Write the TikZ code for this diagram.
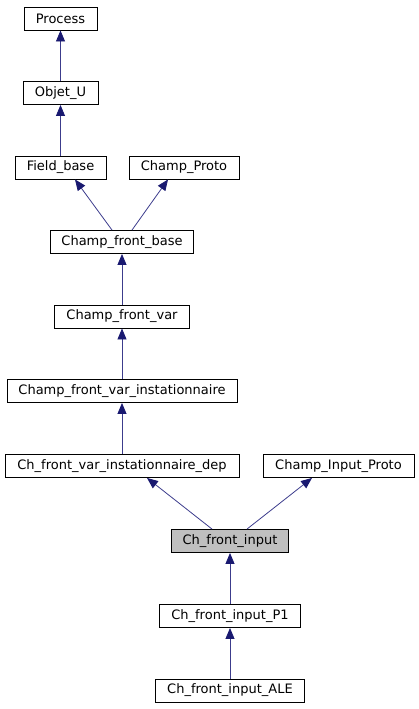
\documentclass[tikz,border=0pt]{standalone}
\usepackage{fontspec}
\setmainfont{DejaVu Sans}
\usetikzlibrary{arrows.meta}
\definecolor{edgecol}{HTML}{191970}
\definecolor{shaftcol}{HTML}{3C3C8C}
\definecolor{hl}{HTML}{BFBFBF}
\tikzset{
  cls/.style={draw=black, line width=0.9pt, fill=white, inner sep=0pt, minimum height=23pt, font=\fontsize{13pt}{15pt}\selectfont},
  edge/.style={draw=shaftcol, line width=0.8pt, -{Triangle[length=11pt,width=9pt,fill=edgecol,color=edgecol]}}
}
\begin{document}
\begin{tikzpicture}[x=1pt,y=-1pt]
\useasboundingbox (0,0) rectangle (418,709);
\node[cls, minimum width=73pt] (process) at (60.5,18.5) {Process};
\node[cls, minimum width=75pt] (objet) at (60.5,93) {Objet\_U};
\node[cls, minimum width=91pt] (fb) at (60.5,167.5) {Field\_base};
\node[cls, minimum width=110pt] (cp) at (184,167.5) {Champ\_Proto};
\node[cls, minimum width=143pt] (cfb) at (122,242) {Champ\_front\_base};
\node[cls, minimum width=135pt] (cfv) at (122,316.5) {Champ\_front\_var};
\node[cls, minimum width=230pt] (cfvi) at (122,391) {Champ\_front\_var\_instationnaire};
\node[cls, minimum width=234pt] (dep) at (122,466) {Ch\_front\_var\_instationnaire\_dep};
\node[cls, minimum width=151pt] (cip) at (338.5,466) {Champ\_Input\_Proto};
\node[cls, fill=hl, minimum width=117pt] (cfi) at (230,541) {Ch\_front\_input};
\node[cls, minimum width=141pt] (p1) at (230,616) {Ch\_front\_input\_P1};
\node[cls, minimum width=149pt] (ale) at (230,690.5) {Ch\_front\_input\_ALE};

\draw[edge] (objet) -- (process);
\draw[edge] (fb) -- (objet);
\draw[edge] ([xshift=-10pt]cfb.north) -- ([xshift=14.5pt]fb.south);
\draw[edge] ([xshift=10pt]cfb.north) -- ([xshift=-16pt]cp.south);
\draw[edge] (cfv) -- (cfb);
\draw[edge] (cfvi) -- (cfv);
\draw[edge] (dep) -- (cfvi);
\draw[edge] ([xshift=-18pt]cfi.north) -- ([xshift=25pt]dep.south);
\draw[edge] ([xshift=17pt]cfi.north) -- ([xshift=-26.5pt]cip.south);
\draw[edge] (p1) -- (cfi);
\draw[edge] (ale) -- (p1);
\end{tikzpicture}
\end{document}
